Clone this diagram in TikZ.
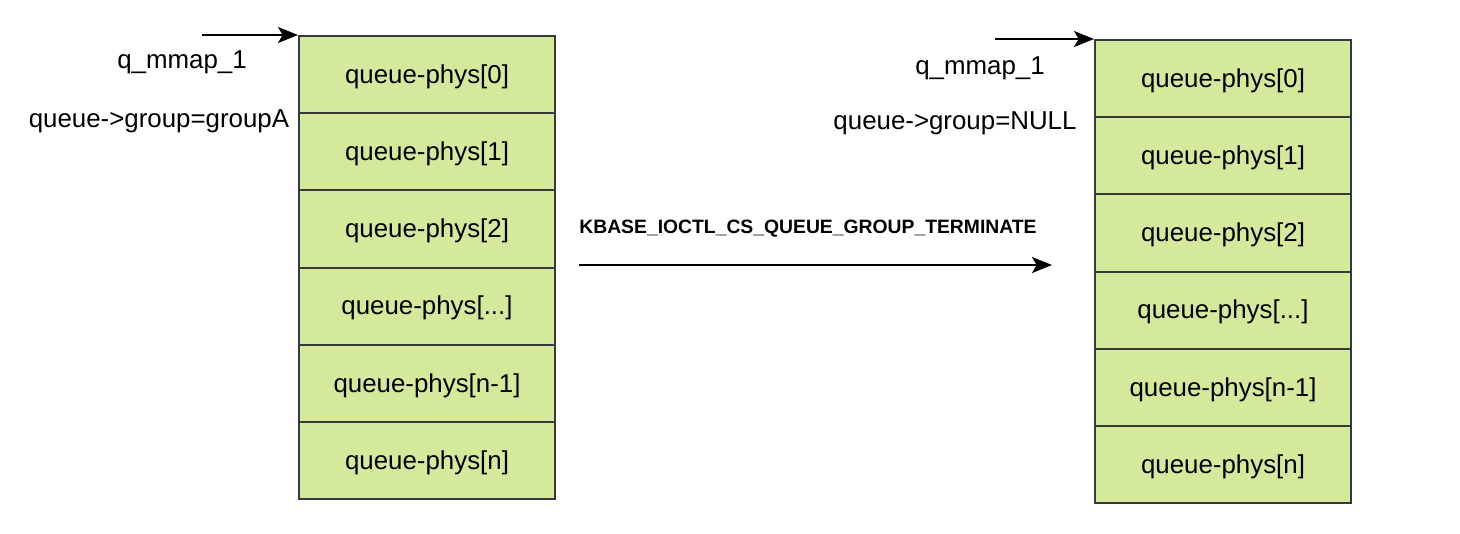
\documentclass[tikz,border=0pt]{standalone}
\usepackage{fontspec}
\setmainfont{Liberation Sans}
\usetikzlibrary{arrows.meta}
\definecolor{cellfill}{HTML}{D5E99A}
\definecolor{celldraw}{HTML}{36393D}
\begin{document}
\begin{tikzpicture}[x=0.75pt,y=-0.75pt,
  cell/.style={draw=celldraw,fill=cellfill,line width=1.5pt,minimum width=256*0.75pt,minimum height=77.2*0.75pt,inner sep=0pt,font=\fontsize{19.4}{23}\selectfont,anchor=north west,text depth=1pt},
  lbl/.style={inner sep=0pt,font=\fontsize{19.4}{23}\selectfont},
  arr/.style={line width=1.5pt,-{Stealth[length=15pt,width=12pt,inset=3.5pt]}}]
\useasboundingbox (0,0) rectangle (1460,533);
% left stack
\node[cell] (L0) at (298,35) {queue-phys[0]};
\node[cell] (L1) at (298,112.2) {queue-phys[1]};
\node[cell] (L2) at (298,189.4) {queue-phys[2]};
\node[cell] (L3) at (298,266.6) {queue-phys[...]};
\node[cell] (L4) at (298,343.8) {queue-phys[n-1]};
\node[cell] (L5) at (298,421) {queue-phys[n]};
% right stack
\node[cell] (R0) at (1094,39) {queue-phys[0]};
\node[cell] (R1) at (1094,116.2) {queue-phys[1]};
\node[cell] (R2) at (1094,193.4) {queue-phys[2]};
\node[cell] (R3) at (1094,270.6) {queue-phys[...]};
\node[cell] (R4) at (1094,347.8) {queue-phys[n-1]};
\node[cell] (R5) at (1094,425) {queue-phys[n]};
\node[lbl] (lq) at (182,62) {q\_mmap\_1};
\node[lbl] (lg) at (159,121) {queue->group=groupA};
\node[lbl] (rq) at (980,68) {q\_mmap\_1};
\node[lbl] (rg) at (955,123) {queue->group=NULL};
\coordinate (la) at (202,35);
\coordinate (ra) at (995,39);
\draw[arr] (la) -- (L0.north west);
\draw[arr] (ra) -- (R0.north west);
\coordinate (ms) at (579,265);
\coordinate (me) at (1052,265);
\draw[arr] (ms) -- (me);
\node[inner sep=0pt,font=\fontsize{14.5}{17}\selectfont\bfseries] (ml) at (808,229) {KBASE\_IOCTL\_CS\_QUEUE\_GROUP\_TERMINATE};
\end{tikzpicture}
\end{document}
